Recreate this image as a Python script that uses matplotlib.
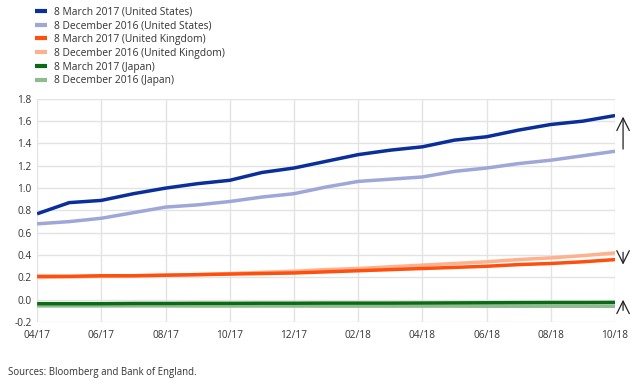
import matplotlib
matplotlib.use("Agg")
import matplotlib.pyplot as plt
import numpy as np

plt.rcParams['font.family'] = ['Open Sans', 'DejaVu Sans']

months = ['04/17','05/17','06/17','07/17','08/17','09/17','10/17','11/17','12/17','01/18',
          '02/18','03/18','04/18','05/18','06/18','07/18','08/18','09/18','10/18']
tick_labels = ['04/17','06/17','08/17','10/17','12/17','02/18','04/18','06/18','08/18','10/18']

us_mar17 = [0.77,0.87,0.89,0.95,1.00,1.04,1.07,1.14,1.18,1.24,1.30,1.34,1.37,1.43,1.46,1.52,1.57,1.60,1.65]
us_dec16 = [0.68,0.70,0.73,0.78,0.83,0.85,0.88,0.92,0.95,1.01,1.06,1.08,1.10,1.15,1.18,1.22,1.25,1.29,1.33]
uk_mar17 = [0.21,0.21,0.215,0.215,0.22,0.225,0.23,0.235,0.24,0.25,0.26,0.27,0.28,0.29,0.30,0.315,0.325,0.34,0.36]
uk_dec16 = [0.20,0.205,0.21,0.215,0.22,0.225,0.235,0.245,0.255,0.27,0.28,0.295,0.31,0.325,0.34,0.36,0.375,0.395,0.42]
jp_mar17 = [-0.035,-0.035,-0.035,-0.033,-0.033,-0.032,-0.032,-0.031,-0.031,-0.03,-0.03,-0.03,-0.029,-0.028,-0.027,-0.026,-0.025,-0.025,-0.024]
jp_dec16 = [-0.055,-0.055,-0.055,-0.055,-0.055,-0.056,-0.056,-0.056,-0.056,-0.057,-0.057,-0.057,-0.057,-0.057,-0.058,-0.058,-0.058,-0.058,-0.058]

series = [
    ('8 March 2017 (United States)', us_mar17, '#0a2f9b'),
    ('8 December 2016 (United States)', us_dec16, '#9fa6d8'),
    ('8 March 2017 (United Kingdom)', uk_mar17, '#ff4f0f'),
    ('8 December 2016 (United Kingdom)', uk_dec16, '#ffb08c'),
    ('8 March 2017 (Japan)', jp_mar17, '#0b6b14'),
    ('8 December 2016 (Japan)', jp_dec16, '#8fbc8f'),
]

fig = plt.figure(figsize=(6.4, 3.89), dpi=100)
ax = fig.add_axes([0.058, 0.172, 0.903, 0.574])
x = np.arange(len(months))
order = [1, 0, 3, 2, 5, 4]
handles = {}
for i in order:
    lab, vals, col = series[i]
    h, = ax.plot(x, vals, color=col, lw=2.5, solid_capstyle='butt', label=lab, zorder=3 + (i % 2 == 0))
    handles[i] = h

ax.set_xlim(0, len(months) - 1)
ax.set_ylim(-0.2, 1.8)
ax.set_yticks(np.arange(-0.2, 1.81, 0.2))
ax.set_yticklabels(['-0.2','0.0','0.2','0.4','0.6','0.8','1.0','1.2','1.4','1.6','1.8'])
ax.set_xticks(x[::2])
ax.set_xticklabels(tick_labels)
ax.grid(True, color='#e3e3e3', lw=1)
ax.set_axisbelow(True)
for s in ax.spines.values():
    s.set_visible(False)
ax.tick_params(length=0, labelsize=7.3, colors='#333333', pad=6)
ax.tick_params(axis='y', pad=4)

leg = fig.legend([handles[i] for i in range(6)], [s[0] for s in series],
                 loc='upper left', bbox_to_anchor=(0.040, 1.007), frameon=False,
                 fontsize=7.4, handlelength=1.2, handletextpad=0.65, labelspacing=0.27,
                 labelcolor='#333333')
for l in leg.get_lines():
    l.set_linewidth(3)

arrow_kw = dict(arrowstyle='->,head_width=0.45,head_length=0.9', color='#222222', lw=0.9)
xa = len(months) - 1 + 0.25
ax.annotate('', xy=(xa, 1.665), xytext=(xa, 1.325), arrowprops=arrow_kw, annotation_clip=False)
ax.annotate('', xy=(xa, 0.29), xytext=(xa, 0.45), arrowprops=arrow_kw, annotation_clip=False)
ax.annotate('', xy=(xa, 0.025), xytext=(xa, -0.12), arrowprops=arrow_kw, annotation_clip=False)

fig.text(0.013, 0.035, 'Sources: Bloomberg and Bank of England.', fontsize=6.9, color='#333333')

fig.savefig('out.png', dpi=100)
